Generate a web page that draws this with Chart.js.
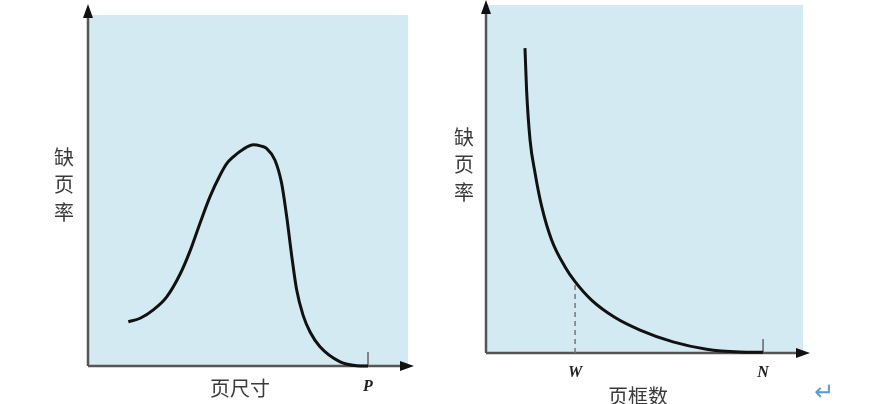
<!DOCTYPE html>
<html>
<head>
<meta charset="utf-8">
<script src="https://cdn.jsdelivr.net/npm/chart.js@4.4.1/dist/chart.umd.min.js"></script>
<style>
  html, body { margin: 0; padding: 0; background: #fff; }
  body { width: 876px; height: 404px; position: relative; overflow: hidden; }
  .wrap { position: absolute; top: 0; width: 438px; height: 404px; }
  #leftWrap { left: 0; }
  #rightWrap { left: 438px; }
  #ret { position: absolute; left: 814px; top: 378px; font: 24px "DejaVu Sans"; color: #5b9bd5; }
</style>
</head>
<body>
<div class="wrap" id="leftWrap"><canvas id="pageSizeChart"></canvas></div>
<div class="wrap" id="rightWrap"><canvas id="frameChart"></canvas></div>
<div id="ret">↵</div>
<script>
// left: page fault rate vs page size
const sizeX = [12.6, 16.3, 20.4, 24.6, 28.8, 31.9, 35.0, 38.1, 41.3, 43.4, 45.4, 48.4, 51.7, 53.9, 55.8, 58.4, 60.5, 62.1, 63.7, 65.2, 67.2, 69.4, 72.5, 78.8, 84.0, 87.5];
const sizeY = [12.6, 13.6, 16.0, 19.7, 26.2, 32.8, 40.7, 48.2, 54.4, 57.7, 59.6, 61.7, 63.0, 62.7, 62.0, 58.7, 52.1, 42.5, 31.1, 21.7, 14.5, 9.7, 5.5, 1.2, 0.1, 0];
const sizeMarks = ["P"];
const sizeMarkX = [87.5];

// right: page fault rate vs frame count
const frameX = [12.3, 12.8, 13.9, 15.5, 17.6, 20.7, 24.9, 28.1, 33.3, 40.7, 48.6, 59.0, 69.6, 80.1, 87.4];
const frameY = [87.6, 75.6, 61.2, 51.6, 42.0, 32.5, 24.8, 20.5, 15.2, 10.2, 6.6, 3.2, 1.1, 0.3, 0.2];
const frameMarks = ["W", "N"];
const frameMarkX = [28.1, 87.4];
const wCurveY = 20.5;

const yTitle = ["缺", "页", "率"];

const toPoints = (xs, ys) => xs.map((x, i) => ({ x, y: ys[i] }));

const decor = {
  id: "decor",
  beforeDraw(chart, args, opts) {
    const { ctx, chartArea: a } = chart;
    ctx.save();
    ctx.fillStyle = "#d3eaf2";
    ctx.fillRect(a.left, a.top, a.right - a.left, a.bottom - a.top);
    ctx.restore();
  },
  beforeDatasetsDraw(chart, args, opts) {
    const { ctx, chartArea: a, scales } = chart;
    ctx.save();
    ctx.strokeStyle = "#555";
    ctx.fillStyle = "#111";
    ctx.lineWidth = 2.5;
    // axes
    ctx.beginPath();
    ctx.moveTo(a.left, a.bottom);
    ctx.lineTo(a.left, opts.yTip + 6);
    ctx.moveTo(a.left, a.bottom);
    ctx.lineTo(opts.xTip - 6, a.bottom);
    ctx.stroke();
    // arrows
    ctx.beginPath();
    ctx.moveTo(a.left, opts.yTip);
    ctx.lineTo(a.left - 5, opts.yTip + 14);
    ctx.lineTo(a.left + 5, opts.yTip + 14);
    ctx.closePath();
    ctx.fill();
    ctx.beginPath();
    ctx.moveTo(opts.xTip, a.bottom);
    ctx.lineTo(opts.xTip - 14, a.bottom - 5);
    ctx.lineTo(opts.xTip - 14, a.bottom + 5);
    ctx.closePath();
    ctx.fill();
    // end tick
    const tx = scales.x.getPixelForValue(opts.markX[opts.markX.length - 1]);
    ctx.lineWidth = 1.5;
    ctx.strokeStyle = "#666";
    ctx.beginPath();
    ctx.moveTo(tx, a.bottom);
    ctx.lineTo(tx, a.bottom - 14);
    ctx.stroke();
    ctx.restore();
  },
  afterDraw(chart, args, opts) {
    const { ctx, chartArea: a, scales } = chart;
    ctx.save();
    ctx.textAlign = "center";
    ctx.textBaseline = "middle";
    ctx.fillStyle = "#222";
    ctx.font = "italic bold 16px 'Liberation Serif'";
    opts.marks.forEach((m, i) => {
      ctx.fillText(m, scales.x.getPixelForValue(opts.markX[i]), a.bottom + opts.markGap);
    });
    ctx.fillStyle = "#3a3a3a";
    ctx.font = "20px 'Noto Sans CJK SC'";
    yTitle.forEach((c, i) => ctx.fillText(c, opts.yTitleX, opts.yTitleY + i * 27.5));
    ctx.fillText(opts.xTitle, opts.xTitleX, opts.xTitleY);
    ctx.restore();
  },
};

const baseOptions = (pad, decorOpts) => ({
  responsive: false,
  animation: false,
  layout: { padding: pad },
  scales: {
    x: { type: "linear", min: 0, max: 100, display: false },
    y: { type: "linear", min: 0, max: 100, display: false },
  },
  plugins: { legend: { display: false }, tooltip: { enabled: false }, decor: decorOpts },
});

const curveStyle = {
  borderColor: "#111",
  borderWidth: 3,
  pointRadius: 0,
  cubicInterpolationMode: "monotone",
  fill: false,
  clip: false,
};

const leftCanvas = document.getElementById("pageSizeChart");
leftCanvas.width = 438;
leftCanvas.height = 404;
new Chart(leftCanvas, {
  type: "line",
  data: {
    datasets: [{ label: "缺页率", data: toPoints(sizeX, sizeY), ...curveStyle }],
  },
  options: baseOptions(
    { left: 88, right: 30, top: 15, bottom: 38 },
    {
      yTip: 4, xTip: 414, marks: sizeMarks, markX: sizeMarkX, markGap: 21,
      yTitleX: 64, yTitleY: 157, xTitle: "页尺寸", xTitleX: 240, xTitleY: 388,
    }
  ),
  plugins: [decor],
});

const rightCanvas = document.getElementById("frameChart");
rightCanvas.width = 438;
rightCanvas.height = 404;
new Chart(rightCanvas, {
  type: "line",
  data: {
    datasets: [
      { label: "缺页率", data: toPoints(frameX, frameY), ...curveStyle },
      {
        label: "W",
        data: [{ x: frameMarkX[0], y: 0 }, { x: frameMarkX[0], y: wCurveY }],
        borderColor: "#777",
        borderWidth: 1.5,
        borderDash: [5, 4],
        pointRadius: 0,
        fill: false,
      },
    ],
  },
  options: baseOptions(
    { left: 48, right: 73, top: 5, bottom: 51 },
    {
      yTip: 0, xTip: 372, marks: frameMarks, markX: frameMarkX, markGap: 20,
      yTitleX: 26, yTitleY: 137, xTitle: "页框数", xTitleX: 200, xTitleY: 396,
    }
  ),
  plugins: [decor],
});
</script>
</body>
</html>
